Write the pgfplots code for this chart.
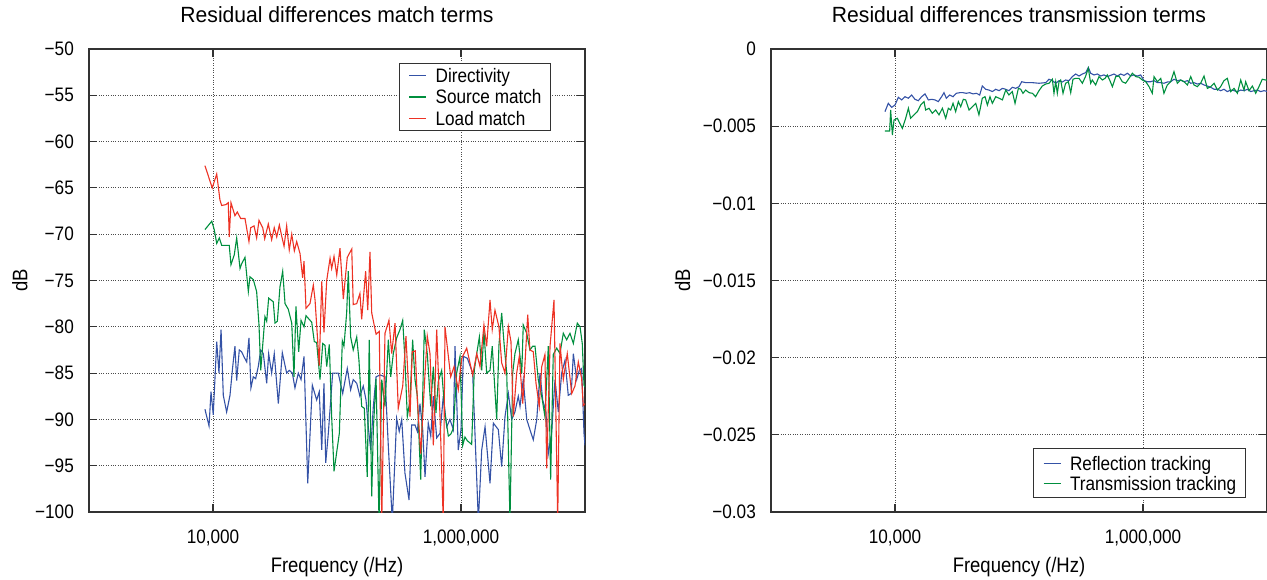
\documentclass[border=0pt]{standalone}
\usepackage{fontspec}
\setmainfont{Liberation Sans}[FakeStretch=0.88]
\newfontfamily\titlefont{Liberation Sans}[FakeStretch=0.96]
\usepackage{pgfplots}
\pgfplotsset{compat=1.18}
\definecolor{dirblue}{RGB}{52,82,166}
\definecolor{srcgreen}{RGB}{0,143,62}
\definecolor{loadred}{RGB}{237,50,36}
\definecolor{framegray}{RGB}{50,50,50}
\pgfplotsset{
  myaxis/.style={
    scale only axis, width=496pt, height=463pt,
    xmin=3, xmax=7, xtick={4,6}, xticklabels={{10,000},{1,000,000}},
    scaled x ticks=false, scaled y ticks=false,
    grid=major, grid style={dotted, line width=0.9pt, black!70},
    axis line style={line width=1.2pt, framegray},
    major tick length=8pt, tick style={line width=1.2pt, framegray},
    tick align=inside, xtick pos=both, ytick pos=both,
    tick label style={font=\fontsize{19.5}{23}\selectfont, inner sep=0pt},
    xticklabel style={anchor=north, yshift=-18pt},
    yticklabel style={anchor=east, xshift=-15pt},
    title style={font=\titlefont\fontsize{22}{26}\selectfont, inner sep=0pt, anchor=base, at={(0.5,1.0438)}},
    xlabel style={font=\fontsize{21}{25}\selectfont, inner sep=0pt, anchor=base, at={(axis description cs:0.5,-0.1317)}},
    ylabel style={font=\fontsize{21}{25}\selectfont, inner sep=0pt, anchor=base},
    legend cell align=left,
    legend image code/.code={\draw[#1, line width=1.3pt] (0pt,0pt) -- (17pt,0pt);},
    every axis plot/.append style={line width=1.1pt},
  }
}
\begin{document}
\begin{tikzpicture}
\useasboundingbox (0,0) rectangle (1267pt,579pt);
% ---------------- Left panel ----------------
\begin{axis}[myaxis,
  at={(89pt,67pt)}, anchor=south west,
  ymin=-100, ymax=-50, ytick={-100,-95,...,-50},
  yticklabels={−100,−95,−90,−85,−80,−75,−70,−65,−60,−55,−50},
  title={Residual differences match terms},
  xlabel={Frequency (/Hz)}, ylabel={dB},
  ylabel style={at={(axis description cs:-0.124,0.5)}},
  legend style={at={(0.9315,0.9698)}, anchor=north east, draw=framegray, line width=1pt,
    font=\fontsize{19.5}{23}\selectfont, inner xsep=9pt, inner ysep=1.7pt,
    row sep=0pt, column sep=9pt,
    nodes={inner sep=0pt, text height=17.5pt, text depth=3.8pt}},
]
\addplot[color=dirblue, draw=dirblue] table[x=lf, y=db] {
lf db
3.935 -88.9
3.968 -90.7
3.984 -87.0
4.002 -89.5
4.030 -81.6
4.048 -85.0
4.065 -80.3
4.083 -87.4
4.110 -89.2
4.137 -87.4
4.159 -84.3
4.177 -82.1
4.191 -85.8
4.212 -82.5
4.231 -82.7
4.252 -83.3
4.272 -83.8
4.290 -81.2
4.306 -86.6
4.325 -85.4
4.344 -85.6
4.365 -84.3
4.385 -82.5
4.406 -82.9
4.433 -86.1
4.449 -82.9
4.473 -85.0
4.494 -82.9
4.527 -88.3
4.559 -82.8
4.594 -85.0
4.615 -84.7
4.640 -85.0
4.661 -86.6
4.688 -85.0
4.710 -85.7
4.734 -83.2
4.764 -96.9
4.801 -86.3
4.836 -87.9
4.857 -87.0
4.877 -93.3
4.895 -86.1
4.909 -94.7
4.930 -91.5
4.965 -85.0
5.010 -85.0
5.046 -87.2
5.083 -84.5
5.110 -86.8
5.131 -85.7
5.159 -86.1
5.185 -87.5
5.212 -86.4
5.234 -87.9
5.252 -90.8
5.272 -93.3
5.293 -88.6
5.315 -85.4
5.347 -85.2
5.387 -85.4
5.414 -92.9
5.446 -101
5.481 -89.9
5.502 -91.3
5.522 -90.0
5.548 -95.8
5.581 -98.7
5.602 -90.6
5.629 -90.6
5.648 -91.3
5.669 -88.3
5.691 -91.1
5.710 -96.2
5.736 -90.4
5.756 -91.8
5.777 -87.5
5.804 -92.0
5.831 -91.5
5.857 -87.5
5.885 -90.8
5.911 -90.0
5.938 -91.1
5.952 -82.1
5.978 -93.3
6.000 -91.1
6.019 -83.2
6.051 -83.4
6.094 -85.0
6.140 -101
6.167 -93.3
6.194 -90.8
6.234 -96.9
6.261 -90.4
6.301 -91.1
6.328 -95.1
6.355 -89.7
6.382 -87.2
6.409 -90.0
6.435 -89.2
6.462 -87.5
6.476 -88.6
6.502 -85.7
6.530 -90.0
6.556 -91.1
6.583 -92.2
6.611 -90.0
6.637 -85.0
6.659 -87.9
6.685 -89.2
6.704 -93.7
6.731 -91.5
6.758 -85.7
6.785 -89.2
6.812 -85.0
6.839 -83.6
6.865 -87.4
6.889 -87.2
6.906 -82.9
6.933 -85.7
6.954 -84.7
6.973 -84.5
6.992 -91.5
7.000 -92.8
};
\addlegendentry{Directivity}
\addplot[color=srcgreen, draw=srcgreen] table[x=lf, y=db] {
lf db
3.935 -69.5
3.990 -68.6
4.010 -69.5
4.030 -71.0
4.051 -70.4
4.070 -71.2
4.131 -71.2
4.145 -73.3
4.172 -72.2
4.191 -70.4
4.218 -73.7
4.231 -73.2
4.258 -72.5
4.285 -76.2
4.298 -74.6
4.325 -74.9
4.352 -76.2
4.371 -79.8
4.385 -84.7
4.419 -78.9
4.433 -79.4
4.449 -76.9
4.486 -77.3
4.500 -79.6
4.519 -79.4
4.540 -75.7
4.562 -74.0
4.581 -77.5
4.607 -78.1
4.635 -79.6
4.653 -85.4
4.669 -77.8
4.691 -82.7
4.710 -79.3
4.734 -80.0
4.750 -78.8
4.796 -79.5
4.817 -81.6
4.836 -81.7
4.863 -85.7
4.885 -81.8
4.903 -82.0
4.917 -84.3
4.938 -81.9
4.957 -89.7
4.976 -95.6
4.998 -93.5
5.019 -91.5
5.043 -81.5
5.056 -82.1
5.078 -78.5
5.091 -74.0
5.110 -81.1
5.131 -82.5
5.159 -81.1
5.177 -83.6
5.199 -88.6
5.220 -88.8
5.244 -96.2
5.260 -81.4
5.280 -98.3
5.293 -91.1
5.315 -85.6
5.339 -101
5.361 -85.7
5.387 -88.6
5.414 -81.4
5.433 -85.4
5.454 -82.9
5.481 -81.2
5.508 -80.3
5.530 -79.3
5.548 -83.6
5.567 -89.7
5.589 -87.9
5.610 -81.4
5.629 -85.7
5.648 -87.5
5.675 -96.5
5.704 -80.3
5.728 -82.9
5.756 -88.6
5.777 -84.3
5.798 -89.3
5.817 -85.9
5.844 -84.7
5.871 -89.4
5.898 -91.8
5.917 -91.6
5.938 -91.0
5.965 -85.0
5.992 -83.2
6.014 -92.8
6.032 -91.9
6.051 -92.3
6.086 -92.7
6.107 -84.7
6.127 -82.9
6.148 -81.1
6.167 -84.7
6.185 -80.5
6.207 -85.0
6.234 -84.7
6.252 -82.1
6.288 -90.0
6.306 -82.0
6.328 -78.5
6.349 -82.1
6.369 -85.0
6.395 -101
6.417 -85.0
6.435 -82.9
6.462 -81.4
6.490 -85.0
6.502 -79.8
6.530 -80.7
6.556 -82.5
6.578 -82.1
6.597 -82.1
6.623 -85.7
6.651 -87.5
6.677 -89.7
6.704 -82.1
6.723 -96.5
6.744 -83.0
6.772 -82.3
6.798 -82.9
6.825 -80.7
6.852 -81.4
6.879 -80.7
6.906 -81.8
6.938 -79.6
6.960 -80.0
6.978 -81.8
6.992 -86.3
7.000 -86.5
};
\addlegendentry{Source match}
\addplot[color=loadred, draw=loadred] table[x=lf, y=db] {
lf db
3.935 -62.6
3.994 -65.0
4.030 -63.5
4.056 -66.3
4.070 -66.9
4.105 -66.8
4.123 -66.6
4.131 -70.3
4.145 -66.6
4.177 -68.0
4.196 -67.6
4.223 -68.3
4.258 -68.3
4.290 -70.8
4.304 -69.3
4.331 -69.1
4.352 -70.4
4.371 -68.5
4.401 -69.3
4.417 -70.5
4.446 -68.9
4.473 -70.6
4.494 -69.3
4.514 -70.3
4.535 -69.0
4.554 -70.2
4.573 -71.3
4.594 -69.1
4.615 -71.7
4.635 -70.0
4.656 -71.8
4.675 -70.8
4.702 -72.1
4.723 -74.7
4.734 -72.9
4.750 -78.0
4.782 -77.5
4.809 -75.5
4.823 -77.1
4.857 -84.2
4.877 -75.1
4.895 -80.6
4.917 -75.0
4.944 -72.6
4.957 -73.7
4.976 -72.4
4.998 -74.4
5.024 -71.5
5.051 -77.0
5.083 -72.5
5.119 -71.6
5.131 -77.6
5.159 -77.5
5.185 -76.4
5.199 -79.2
5.212 -77.1
5.231 -74.0
5.248 -78.2
5.266 -71.9
5.280 -78.5
5.315 -80.8
5.341 -80.5
5.361 -101
5.387 -80.7
5.419 -79.3
5.441 -82.9
5.468 -79.6
5.494 -88.8
5.530 -86.4
5.556 -81.0
5.589 -89.7
5.607 -82.7
5.631 -82.6
5.648 -87.9
5.675 -93.7
5.710 -85.0
5.728 -81.0
5.750 -82.9
5.777 -92.8
5.804 -80.3
5.831 -89.7
5.857 -101
5.871 -80.0
5.917 -85.4
5.944 -84.3
5.978 -86.8
6.006 -83.4
6.046 -82.3
6.094 -85.2
6.127 -82.9
6.153 -84.3
6.185 -79.8
6.207 -82.1
6.234 -77.1
6.252 -80.3
6.274 -78.2
6.306 -80.0
6.328 -83.9
6.355 -85.0
6.382 -80.0
6.403 -81.6
6.422 -89.7
6.449 -85.0
6.470 -83.2
6.498 -88.3
6.538 -78.7
6.556 -82.5
6.583 -82.7
6.605 -86.1
6.631 -88.6
6.651 -84.3
6.677 -83.0
6.691 -95.3
6.718 -82.1
6.750 -77.1
6.780 -101
6.798 -81.8
6.825 -85.7
6.857 -82.9
6.893 -87.2
6.919 -86.4
6.946 -83.8
6.973 -85.6
6.986 -88.5
7.000 -88.3
};
\addlegendentry{Load match}
\end{axis}
% ---------------- Right panel ----------------
\begin{axis}[myaxis,
  at={(771pt,67pt)}, anchor=south west,
  ymin=-0.03, ymax=0, ytick={-0.03,-0.025,...,0.001},
  yticklabels={−0.03,−0.025,−0.02,−0.015,−0.01,−0.005,0},
  title={Residual differences transmission terms},
  xlabel={Frequency (/Hz)}, ylabel={dB},
  ylabel style={at={(axis description cs:-0.163,0.5)}},
  legend style={at={(0.9583,0.0296)}, anchor=south east, draw=framegray, line width=1pt,
    font=\fontsize{19.5}{23}\selectfont, inner xsep=9.5pt, inner ysep=4.6pt,
    row sep=0pt, column sep=8.7pt,
    nodes={inner sep=0pt, text height=17pt, text depth=3pt}},
]
\addplot[color=dirblue, draw=dirblue] table[x=lf, y=db] {
lf db
3.919 -0.00406
3.946 -0.00352
3.973 -0.00378
4.000 -0.00363
4.027 -0.00313
4.054 -0.00330
4.081 -0.00309
4.107 -0.00319
4.134 -0.00298
4.161 -0.00326
4.188 -0.00335
4.215 -0.00309
4.242 -0.00291
4.269 -0.00330
4.296 -0.00326
4.323 -0.00330
4.349 -0.00341
4.376 -0.00309
4.395 -0.00283
4.414 -0.00319
4.441 -0.00298
4.468 -0.00309
4.495 -0.00287
4.522 -0.00283
4.548 -0.00283
4.575 -0.00287
4.602 -0.00283
4.629 -0.00291
4.656 -0.00287
4.683 -0.00298
4.704 -0.00240
4.731 -0.00261
4.758 -0.00266
4.785 -0.00276
4.812 -0.00261
4.839 -0.00270
4.866 -0.00255
4.892 -0.00261
4.919 -0.00270
4.946 -0.00248
4.973 -0.00255
5.000 -0.00244
5.022 -0.00212
5.054 -0.00218
5.108 -0.00218
5.161 -0.00222
5.215 -0.00218
5.242 -0.00196
5.269 -0.00205
5.296 -0.00222
5.323 -0.00205
5.349 -0.00214
5.376 -0.00201
5.403 -0.00205
5.430 -0.00179
5.457 -0.00162
5.484 -0.00175
5.511 -0.00162
5.538 -0.00153
5.559 -0.00119
5.578 -0.00157
5.605 -0.00168
5.632 -0.00162
5.659 -0.00175
5.685 -0.00168
5.712 -0.00179
5.739 -0.00171
5.766 -0.00162
5.793 -0.00175
5.820 -0.00162
5.847 -0.00171
5.874 -0.00157
5.901 -0.00175
5.927 -0.00168
5.954 -0.00175
5.981 -0.00168
6.008 -0.00205
6.035 -0.00212
6.062 -0.00212
6.089 -0.00205
6.116 -0.00218
6.143 -0.00218
6.169 -0.00222
6.196 -0.00214
6.223 -0.00212
6.250 -0.00196
6.277 -0.00205
6.304 -0.00201
6.331 -0.00212
6.358 -0.00205
6.385 -0.00222
6.411 -0.00218
6.438 -0.00227
6.465 -0.00222
6.492 -0.00233
6.519 -0.00240
6.546 -0.00248
6.573 -0.00261
6.600 -0.00261
6.627 -0.00270
6.653 -0.00261
6.680 -0.00276
6.707 -0.00266
6.734 -0.00270
6.761 -0.00276
6.788 -0.00266
6.815 -0.00270
6.842 -0.00261
6.869 -0.00276
6.895 -0.00270
6.922 -0.00266
6.949 -0.00276
6.976 -0.00270
7.000 -0.00275
};
\addlegendentry{Reflection tracking}
\addplot[color=srcgreen, draw=srcgreen] table[x=lf, y=db] {
lf db
3.919 -0.00531
3.957 -0.00531
3.965 -0.00395
3.979 -0.00557
3.992 -0.00460
4.019 -0.00449
4.032 -0.00471
4.059 -0.00514
4.086 -0.00449
4.108 -0.00384
4.126 -0.00449
4.153 -0.00427
4.180 -0.00406
4.207 -0.00363
4.234 -0.00341
4.247 -0.00395
4.274 -0.00384
4.301 -0.00417
4.328 -0.00395
4.355 -0.00427
4.382 -0.00384
4.409 -0.00449
4.430 -0.00384
4.449 -0.00395
4.468 -0.00352
4.489 -0.00406
4.511 -0.00341
4.530 -0.00374
4.551 -0.00326
4.570 -0.00330
4.597 -0.00395
4.624 -0.00374
4.651 -0.00352
4.677 -0.00427
4.704 -0.00319
4.726 -0.00309
4.745 -0.00363
4.766 -0.00309
4.785 -0.00352
4.812 -0.00309
4.839 -0.00319
4.866 -0.00330
4.893 -0.00266
4.919 -0.00298
4.946 -0.00276
4.968 -0.00352
4.995 -0.00255
5.014 -0.00261
5.032 -0.00287
5.054 -0.00266
5.081 -0.00283
5.108 -0.00287
5.134 -0.00309
5.161 -0.00270
5.188 -0.00240
5.215 -0.00227
5.242 -0.00222
5.269 -0.00196
5.282 -0.00287
5.296 -0.00212
5.309 -0.00287
5.323 -0.00212
5.336 -0.00201
5.355 -0.00287
5.376 -0.00222
5.398 -0.00212
5.417 -0.00283
5.435 -0.00196
5.457 -0.00190
5.484 -0.00190
5.511 -0.00222
5.538 -0.00175
5.559 -0.00125
5.578 -0.00222
5.591 -0.00201
5.618 -0.00233
5.645 -0.00179
5.672 -0.00201
5.694 -0.00190
5.712 -0.00168
5.731 -0.00201
5.753 -0.00244
5.780 -0.00179
5.806 -0.00175
5.833 -0.00212
5.860 -0.00222
5.887 -0.00190
5.914 -0.00157
5.941 -0.00179
5.968 -0.00183
5.995 -0.00201
6.022 -0.00212
6.049 -0.00244
6.075 -0.00287
6.089 -0.00179
6.116 -0.00212
6.143 -0.00190
6.169 -0.00287
6.196 -0.00233
6.223 -0.00212
6.250 -0.00147
6.277 -0.00222
6.304 -0.00201
6.331 -0.00212
6.358 -0.00233
6.385 -0.00179
6.411 -0.00233
6.438 -0.00244
6.465 -0.00222
6.492 -0.00175
6.519 -0.00255
6.546 -0.00244
6.573 -0.00222
6.600 -0.00266
6.626 -0.00244
6.653 -0.00205
6.680 -0.00190
6.707 -0.00276
6.734 -0.00255
6.761 -0.00287
6.788 -0.00201
6.815 -0.00266
6.828 -0.00212
6.855 -0.00270
6.882 -0.00240
6.909 -0.00287
6.935 -0.00244
6.962 -0.00196
6.989 -0.00201
7.000 -0.00201
};
\addlegendentry{Transmission tracking}
\end{axis}
\end{tikzpicture}
\end{document}
